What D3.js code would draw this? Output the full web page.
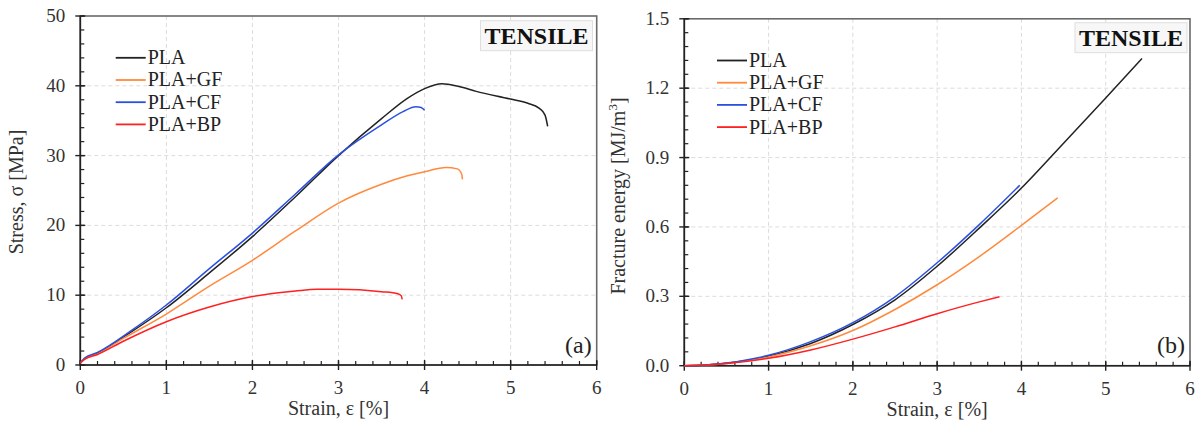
<!DOCTYPE html>
<html>
<head>
<meta charset="utf-8">
<script src="https://cdn.jsdelivr.net/npm/d3@7"></script>
<style>
  body { margin: 0; background: #fff; }
  svg { font-family: "Liberation Serif", "Times New Roman", serif; }
</style>
</head>
<body>
<svg id="fig" width="1202" height="426"></svg>
<script>
// tick labels
const strainTicks = [0, 1, 2, 3, 4, 5, 6];
const stressTicks = [0, 10, 20, 30, 40, 50];
const energyTicks = [0, 0.3, 0.6, 0.9, 1.2, 1.5];

const seriesNames = ['PLA', 'PLA+GF', 'PLA+CF', 'PLA+BP'];
const seriesColors = ['#222222', '#ff8a3d', '#2a50e0', '#ff2020'];

// (a) stress-strain, strain in %, stress in MPa
const plaStrain = [0, 0.05, 0.2, 0.5, 1.0, 1.5, 2.0, 2.5, 3.0, 3.5, 3.8, 4.0, 4.2, 4.4, 4.6, 5.0, 5.2, 5.33, 5.4, 5.43];
const plaStress = [0.3, 0.9, 1.7, 4.0, 8.2, 13.2, 18.4, 24.1, 30.0, 35.3, 38.2, 39.6, 40.3, 39.9, 39.2, 38.1, 37.5, 36.8, 35.8, 34.2];
const gfStrain = [0, 0.05, 0.2, 0.5, 1.0, 1.5, 2.0, 2.5, 3.0, 3.5, 3.8, 4.0, 4.25, 4.38, 4.43, 4.44];
const gfStress = [0.3, 0.9, 1.6, 3.8, 7.3, 11.3, 15.0, 19.2, 23.2, 25.9, 27.1, 27.7, 28.3, 28.1, 27.4, 26.6];
const cfStrain = [0, 0.05, 0.2, 0.6, 1.0, 1.5, 2.0, 2.5, 3.0, 3.5, 3.75, 3.9, 3.96, 4.0];
const cfStress = [0.3, 1.0, 1.8, 5.0, 8.6, 13.8, 18.9, 24.5, 30.1, 34.4, 36.3, 37.0, 36.9, 36.5];
const bpStrain = [0, 0.05, 0.2, 0.5, 1.0, 1.5, 2.0, 2.5, 2.75, 3.0, 3.5, 3.69, 3.73, 3.74];
const bpStress = [0.3, 0.8, 1.5, 3.4, 6.2, 8.3, 9.8, 10.6, 10.85, 10.85, 10.5, 10.2, 9.9, 9.4];

// (b) fracture energy, MJ/m3
const plaEStrain = [0, 0.25, 0.5, 1, 1.5, 2, 2.5, 3, 3.5, 4, 4.5, 5, 5.43];
const plaEnergy = [0, 0.003, 0.011, 0.041, 0.096, 0.178, 0.285, 0.43, 0.595, 0.768, 0.962, 1.158, 1.328];
const gfEStrain = [0, 0.25, 0.5, 1, 1.5, 2, 2.5, 3, 3.5, 4, 4.43];
const gfEnergy = [0, 0.003, 0.01, 0.038, 0.086, 0.152, 0.243, 0.35, 0.472, 0.607, 0.726];
const cfEStrain = [0, 0.25, 0.5, 1, 1.5, 2, 2.5, 3, 3.5, 3.98];
const cfEnergy = [0, 0.003, 0.012, 0.045, 0.104, 0.186, 0.298, 0.445, 0.61, 0.78];
const bpEStrain = [0, 0.25, 0.5, 1, 1.5, 2, 2.5, 3, 3.5, 3.74];
const bpEnergy = [0, 0.003, 0.009, 0.032, 0.068, 0.115, 0.168, 0.225, 0.276, 0.298];

const zip = (xs, ys) => xs.map((x, i) => [x, ys[i]]);

const svg = d3.select('#fig');

const drawPanel = (p) => {
    const x = d3.scaleLinear().domain([0, 6]).range([p.left, p.right]);
    const y = d3.scaleLinear().domain([p.yTicks[0], p.yTicks[p.yTicks.length - 1]]).range([p.bottom, p.top]);
    const g = svg.append('g');

    // grid
    g.selectAll('.gx').data(p.xTicks.slice(1, -1)).join('line')
        .attr('x1', d => x(d)).attr('x2', d => x(d))
        .attr('y1', p.top).attr('y2', p.bottom)
        .attr('stroke', '#dcdcdc').attr('stroke-dasharray', '4,3');
    g.selectAll('.gy').data(p.yTicks.slice(1, -1)).join('line')
        .attr('x1', p.left).attr('x2', p.right)
        .attr('y1', d => y(d)).attr('y2', d => y(d))
        .attr('stroke', '#dcdcdc').attr('stroke-dasharray', '4,3');

    // frame
    g.append('rect')
        .attr('x', p.left).attr('y', p.top)
        .attr('width', p.right - p.left).attr('height', p.bottom - p.top)
        .attr('fill', 'none').attr('stroke', '#6a6a6a').attr('stroke-width', 1.6);

    // minor ticks (inside)
    const xMinor = d3.range(0, 6.0001, 0.2);
    g.selectAll('.mx').data(xMinor).join('line')
        .attr('x1', d => x(d)).attr('x2', d => x(d))
        .attr('y1', p.bottom).attr('y2', p.bottom - 4)
        .attr('stroke', '#222').attr('stroke-width', 1.2);
    const yMinor = d3.range(y.domain()[0], y.domain()[1] + 1e-6, p.yMinorStep);
    g.selectAll('.my').data(yMinor).join('line')
        .attr('x1', p.left).attr('x2', p.left + 4)
        .attr('y1', d => y(d)).attr('y2', d => y(d))
        .attr('stroke', '#222').attr('stroke-width', 1.2);
    // major ticks (crossing)
    g.selectAll('.tx').data(p.xTicks).join('line')
        .attr('x1', d => x(d)).attr('x2', d => x(d))
        .attr('y1', p.bottom - 5).attr('y2', p.bottom + 5)
        .attr('stroke', '#222').attr('stroke-width', 1.4);
    g.selectAll('.ty').data(p.yTicks).join('line')
        .attr('x1', p.left - 5).attr('x2', p.left + 5)
        .attr('y1', d => y(d)).attr('y2', d => y(d))
        .attr('stroke', '#222').attr('stroke-width', 1.4);
    // axis lines
    g.append('line').attr('x1', p.left).attr('x2', p.right).attr('y1', p.bottom).attr('y2', p.bottom)
        .attr('stroke', '#222').attr('stroke-width', 1.6);
    g.append('line').attr('x1', p.left).attr('x2', p.left).attr('y1', p.top).attr('y2', p.bottom)
        .attr('stroke', '#222').attr('stroke-width', 1.6);

    // tick labels
    g.selectAll('.lx').data(p.xTicks).join('text')
        .attr('x', d => x(d)).attr('y', p.bottom + 29)
        .attr('text-anchor', 'middle').attr('font-size', 19).attr('fill', '#333')
        .text(d => d);
    g.selectAll('.ly').data(p.yTicks).join('text')
        .attr('x', p.left - 15).attr('y', d => y(d) + 6)
        .attr('text-anchor', 'end').attr('font-size', 19).attr('fill', '#333')
        .text(p.yFormat);

    // axis titles
    g.append('text')
        .attr('x', (p.left + p.right) / 2).attr('y', p.bottom + 50)
        .attr('text-anchor', 'middle').attr('font-size', 20).attr('fill', '#333')
        .text('Strain, ε [%]');
    const yt = g.append('text')
        .attr('transform', `translate(${p.yTitleX}, ${p.yTitleY}) rotate(-90)`)
        .attr('text-anchor', 'middle').attr('font-size', 20).attr('fill', '#333');
    yt.append('tspan').text(p.yTitle);
    if (p.yTitleSup) {
        yt.append('tspan').attr('font-size', 13).attr('dy', -8).text(p.yTitleSup);
        yt.append('tspan').attr('dy', 8).text(']');
    }

    // curves
    const line = d3.line().x(d => x(d[0])).y(d => y(d[1])).curve(d3.curveMonotoneX);
    g.selectAll('.curve').data(p.series).join('path')
        .attr('d', d => line(d))
        .attr('fill', 'none')
        .attr('stroke', (d, i) => seriesColors[i])
        .attr('stroke-width', 1.5);

    // legend
    const lg = g.append('g').attr('transform', `translate(${p.legendX}, ${p.legendY})`);
    seriesNames.forEach((name, i) => {
        lg.append('line')
            .attr('x1', 0).attr('x2', 30).attr('y1', i * 22.2).attr('y2', i * 22.2)
            .attr('stroke', seriesColors[i]).attr('stroke-width', 1.8);
        lg.append('text')
            .attr('x', 32).attr('y', i * 22.2 + 6.5)
            .attr('font-size', 20).attr('fill', '#222')
            .text(name);
    });

    // TENSILE box
    g.append('rect')
        .attr('x', p.boxX).attr('y', p.boxY).attr('width', 112).attr('height', 30)
        .attr('fill', '#f7f7f7').attr('stroke', '#dedede').attr('stroke-width', 1);
    g.append('text')
        .attr('x', p.boxX + 56).attr('y', p.boxY + 23.5)
        .attr('text-anchor', 'middle').attr('font-size', 24).attr('font-weight', 'bold')
        .attr('fill', '#111')
        .text('TENSILE');

    // panel label
    g.append('text')
        .attr('x', p.right - 5).attr('y', p.bottom - 12.5)
        .attr('text-anchor', 'end').attr('font-size', 24).attr('fill', '#222')
        .text(p.label);
};

drawPanel({
    left: 80.3, right: 596.7, top: 16, bottom: 365,
    xTicks: strainTicks, yTicks: stressTicks, yMinorStep: 2,
    yFormat: d => d,
    yTitle: 'Stress, σ [MPa]', yTitleX: 23, yTitleY: 192,
    series: [zip(plaStrain, plaStress), zip(gfStrain, gfStress), zip(cfStrain, cfStress), zip(bpStrain, bpStress)],
    legendX: 115.7, legendY: 57.8,
    boxX: 480.5, boxY: 20.7,
    label: '(a)'
});

drawPanel({
    left: 684.3, right: 1190, top: 18.8, bottom: 365.7,
    xTicks: strainTicks, yTicks: energyTicks, yMinorStep: 0.06,
    yFormat: d => d3.format('.1f')(d),
    yTitle: 'Fracture energy [MJ/m', yTitleSup: '3', yTitleX: 625, yTitleY: 196,
    series: [zip(plaEStrain, plaEnergy), zip(gfEStrain, gfEnergy), zip(cfEStrain, cfEnergy), zip(bpEStrain, bpEnergy)],
    legendX: 717, legendY: 60.5,
    boxX: 1075, boxY: 22.7,
    label: '(b)'
});
</script>
</body>
</html>
